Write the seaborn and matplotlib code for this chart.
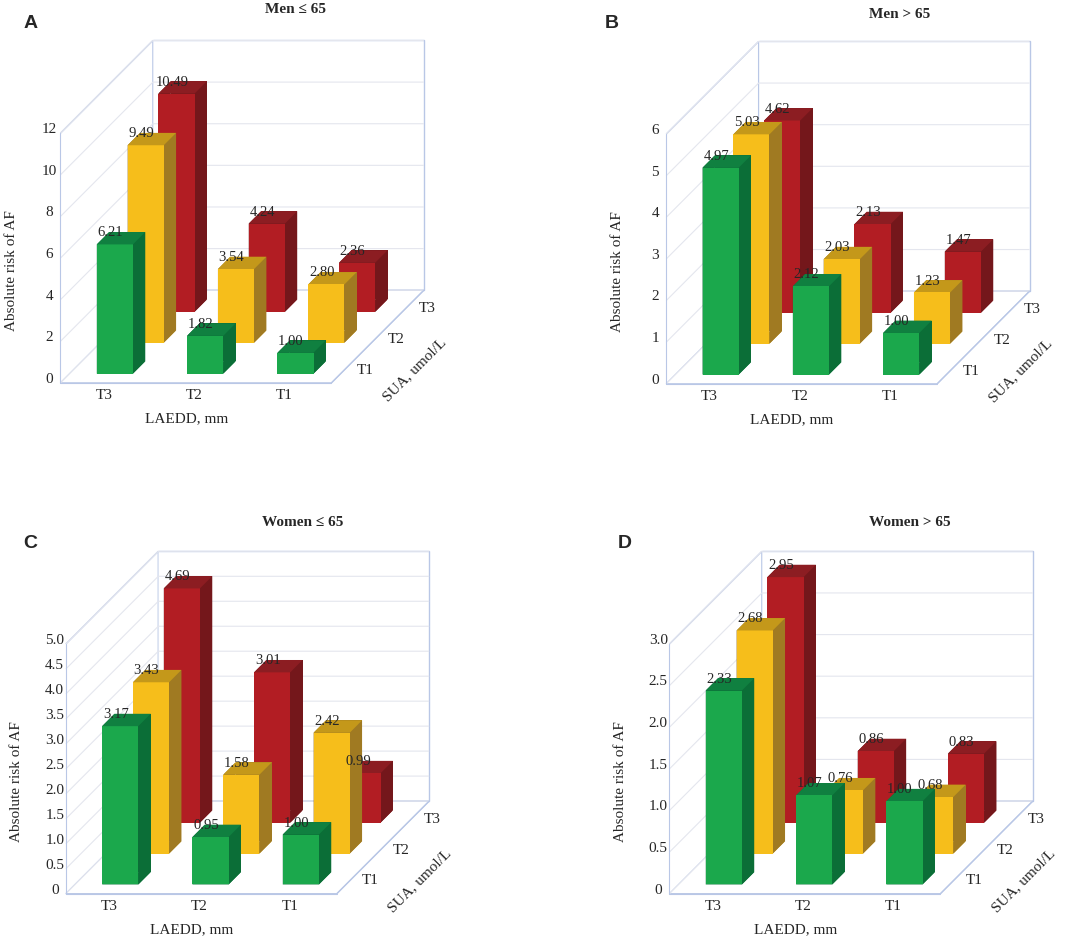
import numpy as np
import pandas as pd
import matplotlib
matplotlib.use("Agg")
import matplotlib.pyplot as plt
import seaborn as sns

# category labels
laedd = ["T3", "T2", "T1"]          # x axis, left to right
sua = ["T1", "T2", "T3"]            # depth axis, front to back

titles = ["Men \u2264 65", "Men > 65", "Women \u2264 65", "Women > 65"]
letters = ["A", "B", "C", "D"]

# rows = SUA tertile (T1, T2, T3), columns = LAEDD tertile (T3, T2, T1)
men_le65 = [[6.21, 1.82, 1.00], [9.49, 3.54, 2.80], [10.49, 4.24, 2.36]]
men_gt65 = [[4.97, 2.12, 1.00], [5.03, 2.03, 1.23], [4.62, 2.13, 1.47]]
women_le65 = [[3.17, 0.95, 1.00], [3.43, 1.58, 2.42], [4.69, 3.01, 0.99]]
women_gt65 = [[2.33, 1.07, 1.00], [2.68, 0.76, 0.68], [2.95, 0.86, 0.83]]

z_ticks = [
    [0, 2, 4, 6, 8, 10, 12],
    [0, 1, 2, 3, 4, 5, 6],
    [0, 0.5, 1.0, 1.5, 2.0, 2.5, 3.0, 3.5, 4.0, 4.5, 5.0],
    [0, 0.5, 1.0, 1.5, 2.0, 2.5, 3.0],
]
z_ticklabels = [
    ["0", "2", "4", "6", "8", "10", "12"],
    ["0", "1", "2", "3", "4", "5", "6"],
    ["0", "0.5", "1.0", "1.5", "2.0", "2.5", "3.0", "3.5", "4.0", "4.5", "5.0"],
    ["0", "0.5", "1.0", "1.5", "2.0", "2.5", "3.0"],
]

sns.set_style("white")
plt.rcParams["font.family"] = ["Liberation Serif", "DejaVu Serif"]
# front, top and right-side shades for SUA T1 / T2 / T3
front = sns.color_palette(["#1ba84c", "#f6be1b", "#b21d23"])
top = sns.color_palette(["#108040", "#c4981a", "#8c1d22"])
side = sns.color_palette(["#0b6e37", "#a07a22", "#74171b"])
edge_blue = "#b9c7e6"

panels = [men_le65, men_gt65, women_le65, women_gt65]
rects = [
    [0.010, 0.540, 0.42, 0.46],
    [0.574, 0.539, 0.42, 0.46],
    [0.015, 0.000, 0.42, 0.46],
    [0.577, 0.000, 0.42, 0.46],
]


def make_oblique(ax):
    # shear the screen so the LAEDD axis runs flat, like an Excel 3D chart
    base = ax.get_proj

    def proj():
        M = base()
        S = np.eye(4)
        S[1, 0] = -M[1, 0] / M[0, 0]
        return S @ M

    ax.get_proj = proj


fig = plt.figure(figsize=(10.74, 9.46), dpi=100)

for k, vals in enumerate(panels):
    ax = fig.add_axes(rects[k], projection="3d")
    df = pd.DataFrame(vals, index=sua, columns=laedd)
    long = df.stack().reset_index()
    long.columns = ["sua", "laedd", "risk"]
    long["xi"] = long["laedd"].map({c: i for i, c in enumerate(laedd)})
    long["yi"] = long["sua"].map({c: i for i, c in enumerate(sua)})

    w, d = 0.4, 0.4
    # faces per bar: -z, +z, -y (front), +y, -x, +x (right side)
    face_cols = []
    for i in long["yi"]:
        face_cols += [top[i], top[i], front[i], side[i], side[i], side[i]]
    ax.bar3d(long["xi"] - w / 2, long["yi"] - d / 2, np.zeros(len(long)),
             w, d, long["risk"], color=face_cols, shade=False,
             edgecolor="none")

    for _, r in long.iterrows():
        ax.text(r["xi"] - 0.05, r["yi"] - d / 2, r["risk"] + z_ticks[k][-1] * 0.02,
                f"{r['risk']:.2f}", ha="center", va="bottom",
                fontsize=10.5, zorder=100)

    ax.set_xlim(-0.5, 2.5)
    ax.set_ylim(-0.5, 2.5)
    ax.set_zlim(0, z_ticks[k][-1])
    ax.set_xticks(range(3))
    ax.set_xticklabels(laedd, fontsize=11)
    ax.set_yticks(range(3))
    ax.set_yticklabels(sua, fontsize=11, ha="left", va="bottom")
    ax.set_zticks(z_ticks[k])
    ax.set_zticklabels(z_ticklabels[k], fontsize=11, va="bottom")
    ax.set_xlabel("LAEDD, mm", fontsize=11, labelpad=-4)
    ax.set_ylabel("SUA, umol/L", fontsize=11, labelpad=4)
    ax.yaxis._axinfo["label"]["va"] = "bottom"
    ax.zaxis.set_rotate_label(False)
    ax.set_zlabel("Absolute risk of AF", fontsize=11, rotation=90, labelpad=1)
    ax.zaxis.set_ticks_position("lower")
    ax.zaxis.set_label_position("lower")
    ax.tick_params(axis="x", pad=-5)
    ax.tick_params(axis="y", pad=-2)
    ax.tick_params(axis="z", pad=-3)

    for axis in (ax.xaxis, ax.yaxis, ax.zaxis):
        axis.set_pane_color((1, 1, 1, 1))
        axis.pane.set_edgecolor(edge_blue)
        axis.line.set_color(edge_blue)
        axis._axinfo["tick"]["inward_factor"] = 0
        axis._axinfo["tick"]["outward_factor"] = 0
    ax.xaxis._axinfo["grid"]["linewidth"] = 0
    ax.yaxis._axinfo["grid"]["linewidth"] = 0
    ax.zaxis._axinfo["grid"]["color"] = "#e4e6ee"
    ax.zaxis._axinfo["grid"]["linewidth"] = 0.8

    ax.set_proj_type("ortho")
    ax.view_init(elev=18.8, azim=-70)
    ax.set_box_aspect((1.6, 1.5, 1.464), zoom=1.06)
    make_oblique(ax)

letter_pos = [(0.022, 0.975), (0.563, 0.975), (0.022, 0.425), (0.575, 0.425)]
title_pos = [(0.275, 0.990), (0.838, 0.985), (0.282, 0.448), (0.847, 0.448)]
for k in range(4):
    fig.text(*letter_pos[k], letters[k], fontsize=14, fontweight="bold",
             family="Liberation Sans", ha="left", va="center")
    fig.text(*title_pos[k], titles[k], fontsize=11, fontweight="bold",
             ha="center", va="center")

fig.savefig("out.png", dpi=100)
